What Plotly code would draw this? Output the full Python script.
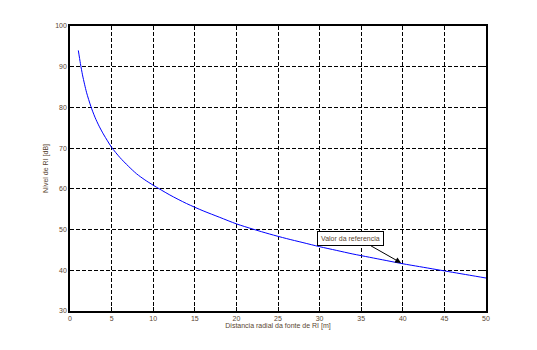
import plotly.graph_objects as go

distance_m = [1, 1.25, 1.5, 1.75, 2, 2.5, 3, 3.5, 4, 4.5, 5, 6, 7, 8, 9, 10, 12, 14, 16, 18,
              20, 22, 24, 26, 28, 30, 32, 34, 36, 38, 40, 42, 44, 46, 48, 50]
level_db = [94.0, 90.8, 88.0, 85.7, 83.6, 80.3, 77.6, 75.4, 73.5, 71.8, 70.2, 67.7, 65.6,
            63.7, 62.2, 60.9, 58.5, 56.4, 54.6, 53.0, 51.4, 50.1, 48.9, 47.8, 46.8, 45.8,
            44.9, 44.0, 43.2, 42.4, 41.6, 40.9, 40.2, 39.5, 38.8, 38.1]
x_ticks = [0, 5, 10, 15, 20, 25, 30, 35, 40, 45, 50]
y_ticks = [30, 40, 50, 60, 70, 80, 90, 100]

txt = "#5a4632"
fig = go.Figure()
fig.add_trace(go.Scatter(x=distance_m, y=level_db, mode="lines",
                         line=dict(color="#0000ff", width=1, shape="spline", smoothing=0.8),
                         showlegend=False))

axis_common = dict(showline=True, mirror="ticks", linecolor="black", linewidth=1.5,
                   showgrid=True, gridcolor="black", gridwidth=1, griddash="4px,2px",
                   zeroline=False, ticks="inside", ticklen=4, tickcolor="black",
                   tickfont=dict(family="Liberation Sans, Arial", size=7, color=txt))
fig.update_xaxes(range=[0, 50], tickvals=x_ticks, **axis_common,
                 title=dict(text="Distancia radial da fonte de RI [m]",
                            font=dict(family="Liberation Sans, Arial", size=7, color=txt),
                            standoff=2))
fig.update_yaxes(range=[30, 100], tickvals=y_ticks, **axis_common,
                 title=dict(text="Nível de RI [dB]",
                            font=dict(family="Liberation Sans, Arial", size=7, color=txt),
                            standoff=6))

fig.add_annotation(x=39.8, y=41.8, ax=36, ay=46.2, xref="x", yref="y", axref="x", ayref="y",
                   text="", showarrow=True, arrowhead=2, arrowsize=1.2, arrowwidth=1,
                   arrowcolor="black")
fig.add_annotation(x=29.7, y=47.8, xref="x", yref="y", xanchor="left", yanchor="middle",
                   text="Valor da referencia", showarrow=False,
                   font=dict(family="Liberation Sans, Arial", size=7, color=txt),
                   bordercolor="black", borderwidth=1, borderpad=3, bgcolor="white")

fig.update_layout(width=537, height=350, margin=dict(l=70, r=51, t=26, b=39),
                  paper_bgcolor="white", plot_bgcolor="white")
fig.write_html("out.html")
